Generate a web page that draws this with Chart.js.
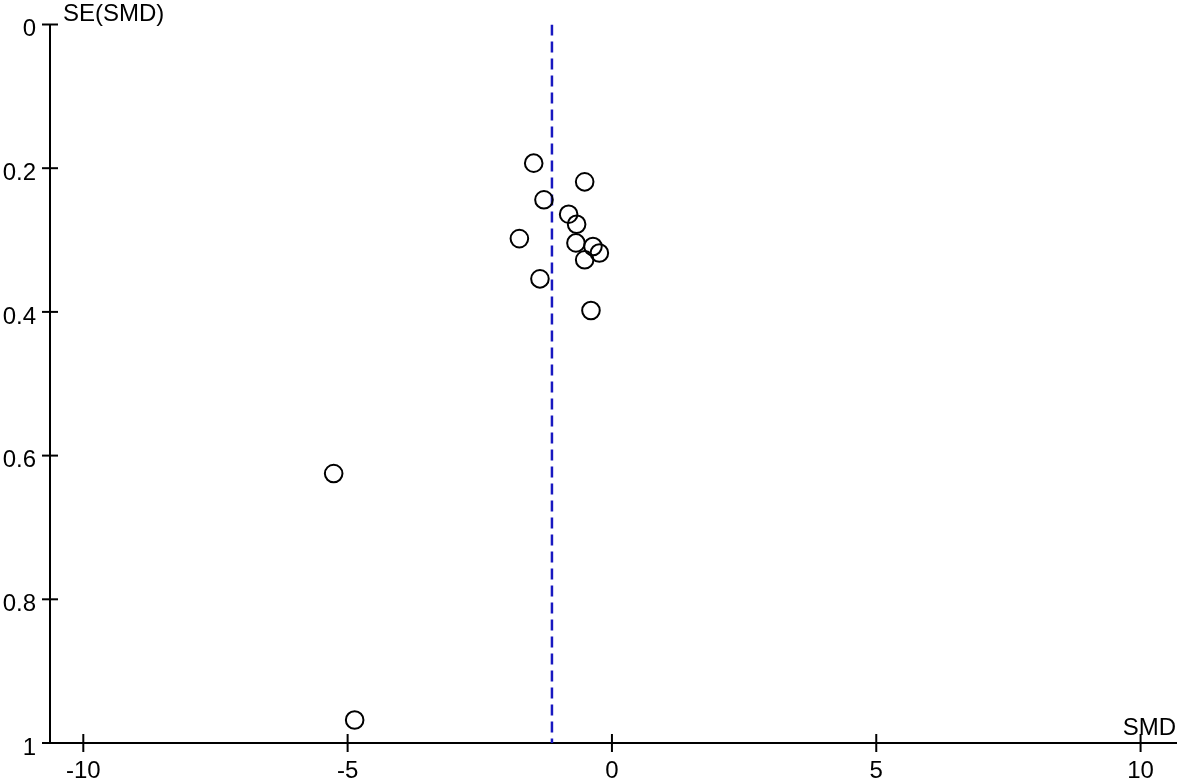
<!DOCTYPE html>
<html>
<head>
<meta charset="utf-8">
<script src="https://cdn.jsdelivr.net/npm/chart.js@4"></script>
<style>
  html, body { margin: 0; padding: 0; background: #fff; }
  #wrap { width: 1181px; height: 781px; position: relative; }
</style>
</head>
<body>
<div id="wrap"><canvas id="funnel"></canvas></div>
<script>
// study effects (SMD) and their standard errors
const smd = [-1.48, -0.516, -1.286, -0.819, -0.668, -1.751, -0.681, -0.359, -0.238, -0.516, -1.362, -0.397, -5.264, -4.867];
const se  = [0.193, 0.219, 0.244, 0.264, 0.278, 0.298, 0.304, 0.309, 0.318, 0.3275, 0.354, 0.398, 0.625, 0.968];
const pooledSmd = -1.135;
const xTicks = [-10, -5, 0, 5, 10];
const yTicks = [0, 0.2, 0.4, 0.6, 0.8, 1];
const xTitle = 'SMD';
const yTitle = 'SE(SMD)';

const FONT = '"Liberation Sans", Arial, sans-serif';

// crossing tick marks + axis titles
const funnelAxes = {
  id: 'funnelAxes',
  afterDraw: chart => {
    const { ctx, chartArea: { left, right, top, bottom }, scales: { x, y } } = chart;
    ctx.save();
    ctx.strokeStyle = 'black';
    ctx.lineWidth = 2;
    xTicks.forEach(v => {
      const px = x.getPixelForValue(v);
      ctx.beginPath(); ctx.moveTo(px, bottom - 9); ctx.lineTo(px, bottom + 9); ctx.stroke();
    });
    yTicks.forEach(v => {
      const py = y.getPixelForValue(v);
      ctx.beginPath(); ctx.moveTo(left - 8, py); ctx.lineTo(left + 8, py); ctx.stroke();
    });
    ctx.fillStyle = 'black';
    ctx.font = '24px ' + FONT;
    ctx.textBaseline = 'middle';
    ctx.textAlign = 'left';
    ctx.fillText(yTitle, left + 13, top - 10);
    ctx.textAlign = 'right';
    ctx.fillText(xTitle, right, bottom - 15);
    ctx.restore();
  }
};

new Chart(document.getElementById('funnel').getContext('2d'), {
  type: 'scatter',
  data: {
    datasets: [
      {
        label: 'studies',
        data: smd.map((v, i) => ({ x: v, y: se[i] })),
        pointStyle: 'circle',
        pointRadius: 8.8,
        pointBorderWidth: 2,
        pointBorderColor: 'black',
        pointBackgroundColor: 'rgba(0,0,0,0)',
        showLine: false
      },
      {
        label: 'pooled',
        type: 'line',
        data: [{ x: pooledSmd, y: 0 }, { x: pooledSmd, y: 1 }],
        borderColor: 'rgb(24,24,192)',
        borderWidth: 2.5,
        borderDash: [11, 6],
        pointRadius: 0,
        fill: false
      }
    ]
  },
  options: {
    responsive: true,
    maintainAspectRatio: false,
    animation: false,
    layout: { autoPadding: false, padding: { top: 24.5, right: 5, left: 0, bottom: 0 } },
    plugins: {
      legend: { display: false },
      tooltip: { enabled: false }
    },
    scales: {
      x: {
        type: 'linear',
        min: -10.63,
        max: 10.67,
        afterBuildTicks: s => { s.ticks = xTicks.map(v => ({ value: v })); },
        afterFit: s => { s.height = 38; s.paddingLeft = 0; s.paddingRight = 0; },
        grid: { display: false, drawTicks: false },
        border: { display: true, color: 'black', width: 2 },
        ticks: {
          color: 'black',
          padding: 14,
          maxRotation: 0,
          font: { family: FONT, size: 24 },
          callback: v => String(v)
        }
      },
      y: {
        type: 'linear',
        reverse: true,
        min: 0,
        max: 1,
        afterBuildTicks: s => { s.ticks = yTicks.map(v => ({ value: v })); },
        afterFit: s => { s.width = 50; s.paddingTop = 0; s.paddingBottom = 0; },
        grid: { display: false, drawTicks: false },
        border: { display: true, color: 'black', width: 2 },
        ticks: {
          color: 'black',
          padding: 14,
          labelOffset: 5,
          font: { family: FONT, size: 24 },
          callback: v => String(+v.toFixed(1))
        }
      }
    }
  },
  plugins: [funnelAxes]
});
</script>
</body>
</html>
